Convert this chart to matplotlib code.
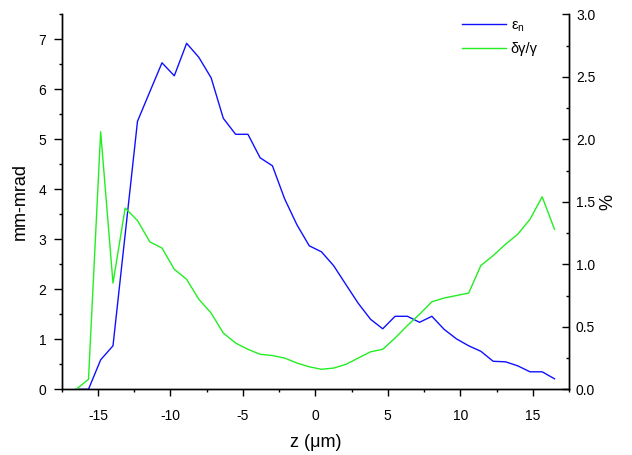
import matplotlib
matplotlib.use("Agg")
import matplotlib.pyplot as plt
from matplotlib.ticker import MultipleLocator

plt.rcParams['font.family'] = ['Liberation Sans', 'DejaVu Sans']
plt.rcParams['mathtext.default'] = 'regular'
plt.rcParams['axes.unicode_minus'] = False

# z positions (um)
z = [-16.50, -15.65, -14.81, -13.96, -13.12, -12.27, -11.42, -10.58, -9.73, -8.88,
     -8.04, -7.19, -6.35, -5.50, -4.65, -3.81, -2.96, -2.12, -1.27, -0.42,
     0.42, 1.27, 2.12, 2.96, 3.81, 4.65, 5.50, 6.35, 7.19, 8.04,
     8.88, 9.73, 10.58, 11.42, 12.27, 13.12, 13.96, 14.81, 15.65, 16.50]

# normalized emittance (mm-mrad)
emit = [0.0, 0.0, 0.59, 0.87, 3.1, 5.36, 5.95, 6.53, 6.27, 6.92,
        6.64, 6.23, 5.42, 5.10, 5.10, 4.63, 4.47, 3.81, 3.29, 2.87,
        2.75, 2.47, 2.09, 1.72, 1.40, 1.21, 1.46, 1.46, 1.34, 1.46,
        1.20, 1.01, 0.87, 0.76, 0.56, 0.55, 0.47, 0.35, 0.35, 0.21]

# energy spread (%)
spread = [0.0, 0.08, 2.06, 0.85, 1.45, 1.35, 1.18, 1.13, 0.96, 0.88,
          0.72, 0.61, 0.45, 0.37, 0.32, 0.28, 0.27, 0.25, 0.21, 0.18,
          0.16, 0.17, 0.20, 0.25, 0.30, 0.32, 0.41, 0.51, 0.60, 0.70,
          0.73, 0.75, 0.77, 0.99, 1.07, 1.16, 1.24, 1.36, 1.54, 1.28]

fig = plt.figure(figsize=(6.32, 4.55), dpi=100)
ax = fig.add_axes([0.0976, 0.1444, 0.8027, 0.8242])
ax2 = ax.twinx()

l1, = ax.plot(z, emit, color='#1010ff', lw=1.0, label='ε$_n$')
l2, = ax2.plot(z, spread, color='#22ee22', lw=1.0, label='δγ/γ')

ax.set_xlim(-17.5, 17.5)
ax.set_ylim(0, 7.5)
ax2.set_ylim(0, 3.0)

ax.xaxis.set_major_locator(MultipleLocator(5))
ax.xaxis.set_minor_locator(MultipleLocator(2.5))
ax.yaxis.set_major_locator(MultipleLocator(1))
ax.yaxis.set_minor_locator(MultipleLocator(0.5))
ax2.yaxis.set_major_locator(MultipleLocator(0.5))
ax2.yaxis.set_minor_locator(MultipleLocator(0.25))
ax2.yaxis.set_major_formatter(plt.FormatStrFormatter('%.1f'))

for a in (ax, ax2):
    a.spines['top'].set_visible(False)
    for s in a.spines.values():
        s.set_linewidth(1.0)

ax.tick_params(axis='x', which='major', direction='out', length=5, width=1, labelsize=10, pad=9)
ax.tick_params(axis='x', which='minor', direction='out', length=2.5, width=1)
ax.tick_params(axis='y', which='major', direction='out', length=6, width=1, labelsize=10, pad=5)
ax.tick_params(axis='y', which='minor', direction='out', length=2.5, width=1)
ax2.tick_params(axis='y', which='major', direction='in', length=5, width=1, labelsize=10, pad=5)
ax2.tick_params(axis='y', which='minor', direction='in', length=2.5, width=1)

ax.set_xlabel('z (μm)', fontsize=13, labelpad=8)
ax.set_ylabel('mm-mrad', fontsize=13, labelpad=7)
ax2.set_ylabel('%', fontsize=13, labelpad=3)

fig.legend(handles=[l1, l2], loc='upper left', bbox_to_anchor=(0.71, 0.988),
           frameon=False, fontsize=10.5, handlelength=3.0, handletextpad=0.35,
           labelspacing=0.55)

fig.savefig('out.png', dpi=100)
